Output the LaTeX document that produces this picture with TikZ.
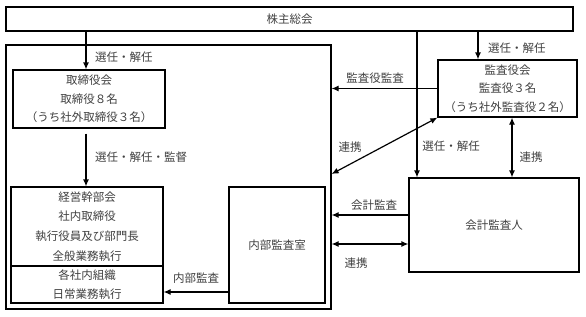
\documentclass[tikz,border=0pt]{standalone}
\usepackage{fontspec}
\setmainfont{Noto Sans CJK JP}
\usetikzlibrary{arrows.meta}
\begin{document}
\begin{tikzpicture}[x=1pt,y=-1pt,
  font=\fontsize{11.5}{13}\selectfont,
  box/.style={draw=black, line width=1.2pt, rectangle, inner sep=0pt, align=center, text=black!75},
  lbl/.style={text=black!75, inner sep=0pt},
  arr/.style={line width=1.2pt, -{Latex[length=7pt,width=6pt]}},
  darr/.style={line width=1.2pt, {Latex[length=7pt,width=6pt]}-{Latex[length=7pt,width=6pt]}}]
\useasboundingbox (0,0) rectangle (586,316);
% boxes
\node[box, minimum width=567pt, minimum height=24pt] (sh) at (289.5,19) {株主総会};
\node[box, minimum width=325pt, minimum height=264pt] (co) at (168.5,177) {};
\node[box, minimum width=152pt, minimum height=58pt, font=\fontsize{11.5}{18.5}\selectfont] (bd) at (89,99) {取締役会\\取締役８名\\（うち社外取締役３名）};
\node[box, minimum width=152pt, minimum height=79pt, font=\fontsize{11.5}{19.7}\selectfont] (mg) at (87,226.5) {経営幹部会\\社内取締役\\執行役員及び部門長\\全般業務執行};
\node[box, minimum width=152pt, minimum height=37pt, font=\fontsize{11.5}{19}\selectfont] (og) at (87,284.5) {各社内組織\\日常業務執行};
\node[box, minimum width=96pt, minimum height=116pt] (ia) at (277,245) {内部監査室};
\node[box, minimum width=139pt, minimum height=57pt, font=\fontsize{11.5}{18.5}\selectfont] (ab) at (507.5,88.5) {監査役会\\監査役３名\\（うち社外監査役２名）};
\node[box, minimum width=170pt, minimum height=94pt] (ac) at (494,225) {会計監査人};
% connectors
\draw[arr] (86,0 |- sh.south) -- (86,0 |- bd.north);
\draw[arr, shorten <=5pt] (86,0 |- bd.south) -- (86,0 |- mg.north);
\draw[arr] (478,0 |- sh.south) -- (478,0 |- ab.north);
\draw[arr] (417,0 |- sh.south) -- (417,0 |- ac.north);
\draw[arr] (ab.west) -- (ab.west -| co.east);
\draw[darr] (ab.south west) -- (co.east |- 0,174);
\draw[darr] (512,0 |- ab.south) -- (512,0 |- ac.north);
\draw[arr] (ac.west |- 0,215) -- (co.east |- 0,215);
\draw[darr] (co.east |- 0,244) -- (ac.west |- 0,244);
\draw[arr] (ia.west |- 0,292) -- (og.east |- 0,292);
% labels
\node[lbl, anchor=west] (l1) at (95,57) {選任・解任};
\node[lbl, anchor=west] (l2) at (95,157) {選任・解任・監督};
\node[lbl, anchor=west] (l3) at (488,48) {選任・解任};
\node[lbl] (l4) at (375,78) {監査役監査};
\node[lbl] (l5) at (350,147) {連携};
\node[lbl] (l6) at (451,146) {選任・解任};
\node[lbl] (l7) at (531,157) {連携};
\node[lbl] (l8) at (374,205) {会計監査};
\node[lbl] (l9) at (356,263) {連携};
\node[lbl] (l10) at (196,278) {内部監査};
\end{tikzpicture}
\end{document}
